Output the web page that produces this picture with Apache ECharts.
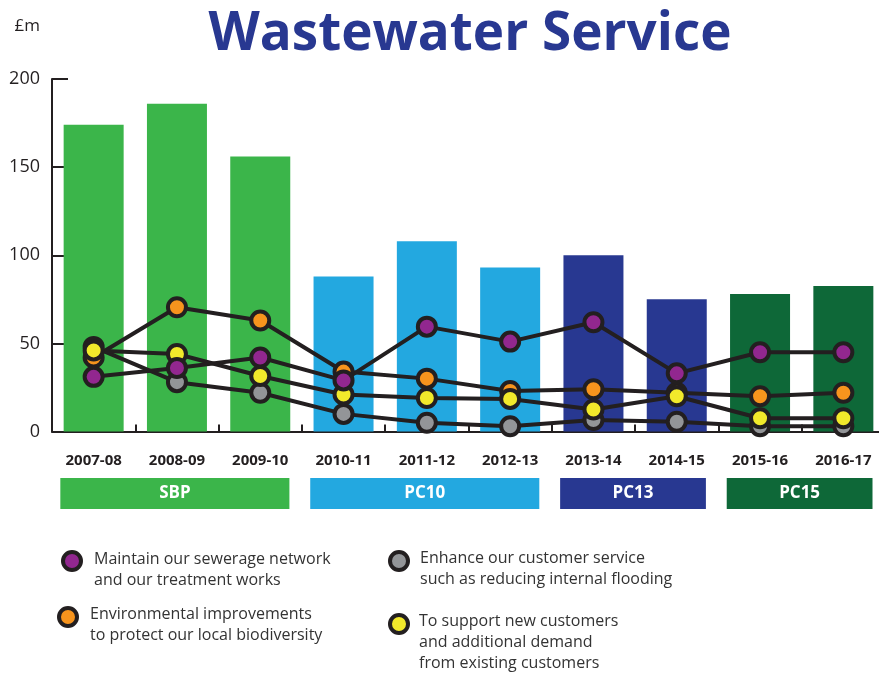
<!DOCTYPE html>
<html>
<head>
<meta charset="utf-8">
<title>Wastewater Service</title>
<script src="https://cdn.jsdelivr.net/npm/echarts@6/dist/echarts.min.js"></script>
<style>
  html, body { margin: 0; padding: 0; background: #ffffff; }
  #chart { width: 879px; height: 673px; }
</style>
</head>
<body>
<div id="chart"></div>
<script>
// Financial years on the horizontal axis
const years = ['2007-08', '2008-09', '2009-10', '2010-11', '2011-12',
               '2012-13', '2013-14', '2014-15', '2015-16', '2016-17'];

// Total wastewater spend per year (£m)
const totalSpend = [174, 186, 156, 88, 108, 93, 100, 75, 78, 82.5];

// Spend by purpose (£m)
const maintainNetwork = [31, 36, 42, 29, 59.5, 51, 62, 33, 45, 45];
const environmental   = [42, 70.5, 63, 34, 30, 23, 24, 22, 20, 22];
const newCustomers    = [46, 44, 31.5, 21, 19, 18.5, 12.5, 20, 7.5, 7.5];
const customerService = [48, 28, 22, 10, 5, 3, 6.5, 5.5, 3, 3];

// Y axis ticks
const yMin = 0, yMax = 200, yStep = 50;

// Regulatory periods, each spanning a run of years
const periodNames  = ['SBP', 'PC10', 'PC13', 'PC15'];
const periodFirst  = [0, 3, 6, 8];
const periodLast   = [2, 5, 7, 9];
const periodColors = ['#3bb54a', '#23a8e0', '#283891', '#0e6838'];

// Legend text
const legendLabels = {
  maintain: 'Maintain our sewerage network\nand our treatment works',
  environment: 'Environmental improvements\nto protect our local biodiversity',
  service: 'Enhance our customer service\nsuch as reducing internal flooding',
  growth: 'To support new customers\nand additional demand\nfrom existing customers'
};

const ink = '#231f20';
const dotColors = {
  maintain: '#92278f',
  environment: '#f7941d',
  service: '#939598',
  growth: '#f2e92b'
};

function periodColorFor(i) {
  for (let p = 0; p < periodNames.length; p++) {
    if (i >= periodFirst[p] && i <= periodLast[p]) return periodColors[p];
  }
  return '#999';
}

const chart = echarts.init(document.getElementById('chart'), null, { renderer: 'canvas' });

function dotSeries(name, values, fill) {
  return {
    name: name,
    type: 'line',
    data: values,
    z: 3,
    symbol: 'circle',
    symbolSize: 18,
    showAllSymbol: true,
    lineStyle: { color: ink, width: 4 },
    itemStyle: { color: fill, borderColor: ink, borderWidth: 4 },
    emphasis: { disabled: true }
  };
}

const option = {
  backgroundColor: '#ffffff',
  animation: false,
  textStyle: { fontFamily: 'Open Sans' },
  title: {
    text: 'Wastewater Service',
    left: 465,
    top: 3,
    textAlign: 'center',
    textStyle: {
      fontFamily: 'Open Sans',
      fontWeight: 'bold',
      fontSize: 53,
      color: '#283891'
    }
  },
  grid: {
    left: 52, right: -6, top: 79, bottom: 241.5,
    containLabel: false,
    outerBoundsMode: 'none'
  },
  xAxis: {
    type: 'category',
    data: years,
    boundaryGap: true,
    axisLine: { lineStyle: { color: ink, width: 2 } },
    axisTick: { show: true, inside: true, length: 7, lineStyle: { color: ink, width: 2 } },
    axisLabel: {
      margin: 22,
      interval: 0,
      fontFamily: 'Open Sans',
      fontWeight: 'bold',
      fontSize: 15,
      color: ink
    },
    splitLine: { show: false }
  },
  yAxis: {
    type: 'value',
    min: yMin,
    max: yMax,
    interval: yStep,
    name: '£m',
    nameLocation: 'end',
    nameGap: 44,
    nameTextStyle: { fontFamily: 'Open Sans', fontSize: 17, color: ink, align: 'right', padding: [0, 12, 0, 0] },
    axisLine: { show: true, lineStyle: { color: ink, width: 2 } },
    axisTick: { show: true, inside: true, length: 16, lineStyle: { color: ink, width: 2 } },
    axisLabel: { margin: 12, fontFamily: 'Open Sans', fontSize: 18, color: ink },
    splitLine: { show: false }
  },
  series: [
    {
      name: 'Total',
      type: 'bar',
      data: totalSpend.map((v, i) => ({ value: v, itemStyle: { color: periodColorFor(i) } })),
      barWidth: 60,
      z: 2,
      emphasis: { disabled: true }
    },
    dotSeries('service', customerService, dotColors.service),
    dotSeries('environment', environmental, dotColors.environment),
    dotSeries('growth', newCustomers, dotColors.growth),
    dotSeries('maintain', maintainNetwork, dotColors.maintain)
  ]
};

chart.setOption(option);

// Period bands below the year labels, placed from the category axis
function buildGraphics() {
  const elements = [];
  const c0 = chart.convertToPixel({ xAxisIndex: 0 }, years[0]);
  const c1 = chart.convertToPixel({ xAxisIndex: 0 }, years[1]);
  const band = c1 - c0;
  const bandTop = 478, bandHeight = 31;
  for (let p = 0; p < periodNames.length; p++) {
    const xa = chart.convertToPixel({ xAxisIndex: 0 }, years[periodFirst[p]]) - band * 0.40;
    const xb = chart.convertToPixel({ xAxisIndex: 0 }, years[periodLast[p]]) + band * 0.35;
    elements.push({
      type: 'rect',
      shape: { x: xa, y: bandTop, width: xb - xa, height: bandHeight },
      style: { fill: periodColors[p] },
      silent: true
    });
    elements.push({
      type: 'text',
      x: (xa + xb) / 2,
      y: bandTop + bandHeight / 2,
      style: {
        text: periodNames[p],
        fill: '#ffffff',
        font: 'bold 17px "Open Sans"',
        align: 'center',
        verticalAlign: 'middle'
      },
      silent: true
    });
  }

  // Legend: circle markers with wrapped descriptions
  const legendItems = [
    { key: 'maintain', cx: 72, cy: 561, tx: 94, ty: 549 },
    { key: 'environment', cx: 68, cy: 617, tx: 90, ty: 603.5 },
    { key: 'service', cx: 399, cy: 561, tx: 420, ty: 548 },
    { key: 'growth', cx: 399, cy: 624, tx: 419, ty: 611 }
  ];
  legendItems.forEach(item => {
    elements.push({
      type: 'circle',
      shape: { cx: item.cx, cy: item.cy, r: 9 },
      style: { fill: dotColors[item.key], stroke: ink, lineWidth: 4 },
      silent: true
    });
    elements.push({
      type: 'text',
      x: item.tx,
      y: item.ty,
      style: {
        text: legendLabels[item.key],
        fill: '#333333',
        font: '16px "Open Sans"',
        lineHeight: 21,
        align: 'left',
        verticalAlign: 'top'
      },
      silent: true
    });
  });
  chart.setOption({ graphic: { elements: elements } });
}

buildGraphics();
</script>
</body>
</html>
